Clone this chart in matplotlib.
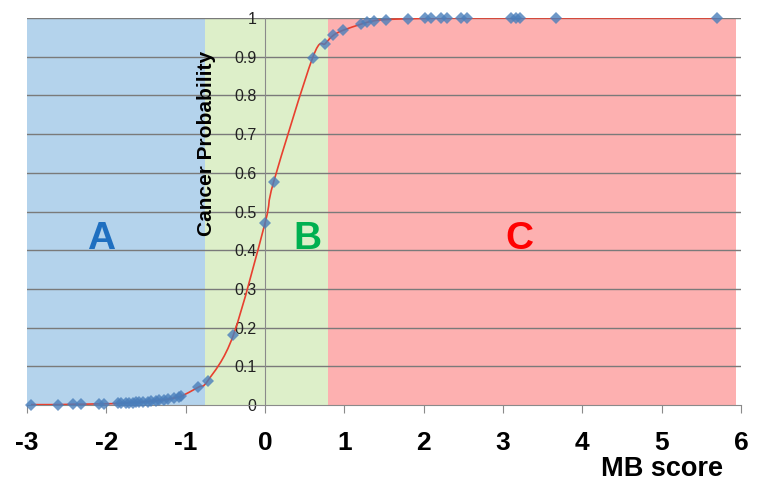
import numpy as np
import matplotlib
matplotlib.use("Agg")
import matplotlib.pyplot as plt
from matplotlib.path import Path
from matplotlib.patches import PathPatch

plt.rcParams['font.family'] = ['Liberation Sans', 'DejaVu Sans']

# MB score vs cancer probability
mb_score = [-2.95, -2.61, -2.42, -2.32, -2.09, -2.03, -1.85, -1.81, -1.75, -1.71,
            -1.66, -1.62, -1.59, -1.54, -1.47, -1.44, -1.37, -1.33, -1.27, -1.22,
            -1.15, -1.08, -1.06, -0.84, -0.72, -0.40, 0.0, 0.11, 0.60, 0.76,
            0.86, 0.98, 1.21, 1.29, 1.38, 1.52, 1.80, 2.02, 2.09, 2.22,
            2.30, 2.47, 2.55, 3.10, 3.16, 3.21, 3.67, 5.70]
cancer_prob = [0.001, 0.001, 0.002, 0.002, 0.003, 0.003, 0.004, 0.005, 0.005, 0.006,
               0.006, 0.007, 0.007, 0.008, 0.009, 0.010, 0.011, 0.012, 0.014, 0.015,
               0.018, 0.021, 0.022, 0.046, 0.063, 0.18, 0.47, 0.577, 0.897, 0.934,
               0.955, 0.968, 0.984, 0.989, 0.993, 0.996, 0.998, 0.999, 0.999, 1.0,
               1.0, 1.0, 1.0, 1.0, 1.0, 1.0, 1.0, 1.0]

# zones: label, start, end, fill colour, text colour, label x
zone_names = ['A', 'B', 'C']
zone_start = [-3.0, -0.755, 0.79]
zone_end = [-0.755, 0.79, 5.94]
zone_fill = ['#b4d3ec', '#ddefc9', '#fdb0b0']
zone_text = ['#1f6fc0', '#00b050', '#ff0000']
zone_label_x = [-2.07, 0.54, 3.21]

x_ticks = [-3, -2, -1, 0, 1, 2, 3, 4, 5, 6]
y_ticks = [0, 0.1, 0.2, 0.3, 0.4, 0.5, 0.6, 0.7, 0.8, 0.9, 1]
y_tick_labels = ['0', '0.1', '0.2', '0.3', '0.4', '0.5', '0.6', '0.7', '0.8', '0.9', '1']


def smooth_path(xs, ys):
    # excel style smoothed line (catmull-rom as bezier)
    p = np.column_stack([xs, ys])
    verts = [p[0]]
    codes = [Path.MOVETO]
    n = len(p)
    for i in range(n - 1):
        p0 = p[i - 1] if i > 0 else p[i]
        p3 = p[i + 2] if i + 2 < n else p[i + 1]
        c1 = p[i] + (p[i + 1] - p0) / 6.0
        c2 = p[i + 1] - (p3 - p[i]) / 6.0
        verts += [c1, c2, p[i + 1]]
        codes += [Path.CURVE4] * 3
    return Path(verts, codes)


fig = plt.figure(figsize=(7.66, 4.84), dpi=100)
ax = fig.add_axes([27 / 766, 79 / 484, 714 / 766, 387 / 484])
ax.set_xlim(-3, 6)
ax.set_ylim(0, 1)

for s, e, c in zip(zone_start, zone_end, zone_fill):
    ax.axvspan(s, e, ymin=0, ymax=1, color=c, lw=0, zorder=0)

for yv in y_ticks[1:]:
    ax.axhline(yv, color='#7a7a7a', lw=1.0, zorder=1)

for name, lx, tc in zip(zone_names, zone_label_x, zone_text):
    ax.text(lx, 0.43, name, color=tc, fontsize=28, fontweight='heavy',
            ha='center', va='center', zorder=2)

ax.add_patch(PathPatch(smooth_path(mb_score, cancer_prob), fill=False,
                       edgecolor='#e8402f', lw=1.2, zorder=3))
ax.plot(mb_score, cancer_prob, linestyle='none', marker='D', markersize=6.5,
        color='#4a7ebb', alpha=0.8, markeredgewidth=0, zorder=4, clip_on=False)

for side in ['top', 'right']:
    ax.spines[side].set_visible(False)
ax.spines['left'].set_position(('data', 0))
ax.spines['left'].set_color('#8a8a8a')
ax.spines['bottom'].set_color('#8a8a8a')
ax.spines['left'].set_zorder(1)

ax.set_yticks(y_ticks)
ax.set_yticklabels(y_tick_labels, fontsize=11.5, color='#222222')
ax.tick_params(axis='y', length=0, pad=6)

ax.set_xticks(x_ticks)
ax.set_xticklabels([str(t) for t in x_ticks], fontsize=19, fontweight='bold')
ax.tick_params(axis='x', length=6, direction='out', color='#8a8a8a', pad=13)

ax.text(-0.74, 0.675, 'Cancer Probability', rotation=90, fontsize=15,
        fontweight='bold', ha='center', va='center', zorder=2)
fig.text(662 / 766, 1 - 469 / 484, 'MB score', fontsize=19.5, fontweight='bold',
         ha='center', va='center')

fig.savefig('out.png', dpi=100)
